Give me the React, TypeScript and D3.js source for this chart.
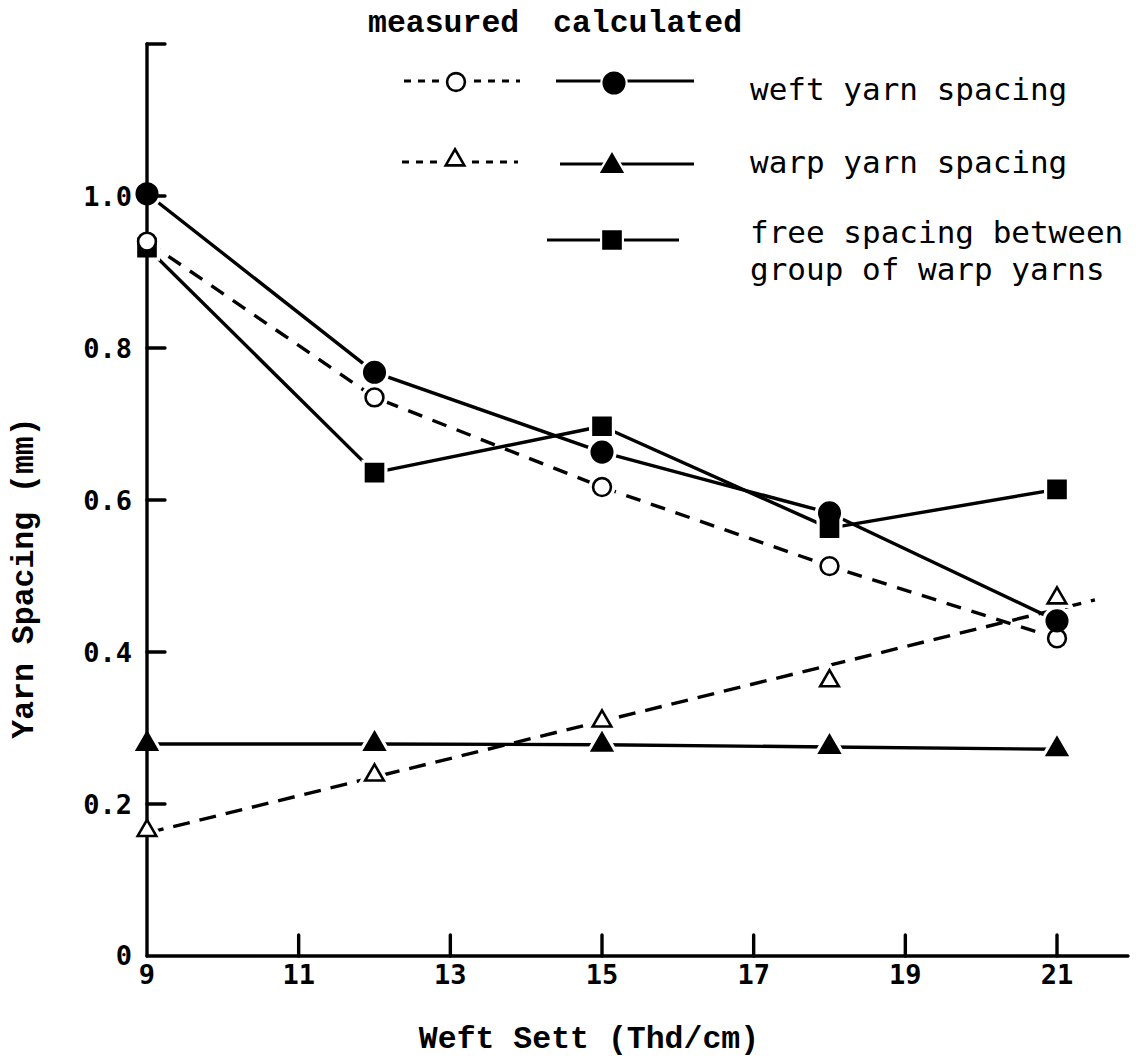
import React from "react";
import * as d3 from "d3";

const sett = [9, 12, 15, 18, 21];
const weftMeasured = [0.94, 0.735, 0.617, 0.513, 0.418];
const weftCalculated = [1.003, 0.768, 0.663, 0.583, 0.441];
const warpMeasured = [0.165, 0.238, 0.309, 0.362, 0.471];
const warpCalculated = [0.279, 0.279, 0.278, 0.275, 0.272];
const freeSpacing = [0.932, 0.636, 0.697, 0.563, 0.614];
const xTicks = [9, 11, 13, 15, 17, 19, 21];
const yTicks = [0.2, 0.4, 0.6, 0.8, 1.0, 1.2];
const yTickLabels = ["0.2", "0.4", "0.6", "0.8", "1.0", ""];
const trendEnd = 21.5;
const legendRows = ["weft yarn spacing", "warp yarn spacing", "free spacing between", "group of warp yarns"];

const W = 1136;
const H = 1060;

export default function App() {
  const x = d3.scaleLinear().domain([9, 21]).range([147, 1057]);
  const y = d3.scaleLinear().domain([0, 1.2]).range([956, 44]);
  const xEnd = 1128;

  const line = d3
    .line<[number, number]>()
    .x((d) => x(d[0]))
    .y((d) => y(d[1]));

  const pts = (vals: number[]) => sett.map((s, i) => [s, vals[i]] as [number, number]);

  // least-squares trend for measured warp spacing
  const mx = d3.mean(sett)!;
  const my = d3.mean(warpMeasured)!;
  const slope =
    d3.sum(sett.map((s, i) => (s - mx) * (warpMeasured[i] - my))) /
    d3.sum(sett.map((s) => (s - mx) * (s - mx)));
  const trend: [number, number][] = [
    [sett[0], my + slope * (sett[0] - mx)],
    [trendEnd, my + slope * (trendEnd - mx)],
  ];

  const sym = (type: d3.SymbolType, size: number) => d3.symbol().type(type).size(size)()!;
  const circleF = sym(d3.symbolCircle, 330);
  const circleO = sym(d3.symbolCircle, 250);
  const triF = sym(d3.symbolTriangle, 170);
  const triO = sym(d3.symbolTriangle, 150);
  const square = sym(d3.symbolSquare, 290);

  type M = { d: string; filled: boolean; vals: number[] };
  const markers: M[] = [
    { d: square, filled: true, vals: freeSpacing },
    { d: circleO, filled: false, vals: weftMeasured },
    { d: circleF, filled: true, vals: weftCalculated },
    { d: triO, filled: false, vals: warpMeasured },
    { d: triF, filled: true, vals: warpCalculated },
  ];

  const sw = 3.4;
  const monoBold = "'Liberation Mono', 'DejaVu Sans Mono', monospace";
  const monoSans = "'DejaVu Sans Mono', 'Liberation Mono', monospace";

  return (
    <svg
      width={W}
      height={H}
      style={{ position: "absolute", left: 0, top: 0, background: "#fff" }}
      fill="none"
    >
      <rect x={0} y={0} width={W} height={H} fill="#fff" />

      {/* series lines */}
      <g stroke="#000" strokeWidth={sw} strokeLinecap="round" strokeLinejoin="round">
        <path d={line(pts(weftCalculated))!} />
        <path d={line(pts(freeSpacing))!} />
        <path d={line(pts(warpCalculated))!} />
        <path d={line(pts(weftMeasured))!} strokeDasharray="15 11" strokeLinecap="butt" />
        <path d={line(trend)!} strokeDasharray="17 10" strokeLinecap="butt" />
      </g>

      {/* marker halos */}
      <g>
        {markers.map((m, k) =>
          m.vals.map((v, i) => (
            <path
              key={`h${k}-${i}`}
              d={m.d}
              transform={`translate(${x(sett[i])},${y(v)})`}
              fill="#fff"
              stroke="#fff"
              strokeWidth={9}
            />
          ))
        )}
      </g>

      {/* axes */}
      <g stroke="#000" strokeWidth={3.4} strokeLinecap="round">
        <line x1={x(9)} y1={y(0)} x2={xEnd} y2={y(0)} />
        <line x1={x(9)} y1={y(0)} x2={x(9)} y2={y(1.2)} />
        {yTicks.map((t) => (
          <line key={`yt${t}`} x1={x(9)} x2={x(9) + 18} y1={y(t)} y2={y(t)} />
        ))}
        {xTicks.slice(1).map((t) => (
          <line key={`xt${t}`} x1={x(t)} x2={x(t)} y1={y(0)} y2={y(0) - 21} />
        ))}
      </g>

      {/* markers */}
      <g stroke="#000" strokeWidth={2.6}>
        {markers.map((m, k) =>
          m.vals.map((v, i) => (
            <path
              key={`m${k}-${i}`}
              d={m.d}
              transform={`translate(${x(sett[i])},${y(v)})`}
              fill={m.filled ? "#000" : "#fff"}
            />
          ))
        )}
      </g>

      {/* tick labels */}
      <g fill="#000" fontFamily={monoSans} fontSize={27} fontWeight={600}>
        {xTicks.map((t) => (
          <text key={`xl${t}`} x={x(t)} y={y(0) + 28} textAnchor="middle">
            {t}
          </text>
        ))}
        <text x={x(9) - 15} y={y(0) + 9} textAnchor="end">0</text>
        {yTicks.map((t, i) => (
          <text key={`yl${t}`} x={x(9) - 15} y={y(t) + 10} textAnchor="end">
            {yTickLabels[i]}
          </text>
        ))}
      </g>

      {/* axis titles */}
      <g fill="#000" fontFamily={monoBold} fontSize={31.5} fontWeight={700}>
        <text x={589} y={1048} textAnchor="middle">Weft Sett (Thd/cm)</text>
        <text transform="translate(33,578) rotate(-90)" textAnchor="middle">Yarn Spacing (mm)</text>
        <text x={368} y={32}>measured</text>
        <text x={553} y={32}>calculated</text>
      </g>

      {/* legend */}
      <g stroke="#000" strokeWidth={3.2}>
        <line x1={404} x2={520} y1={81} y2={81} strokeDasharray="7 7" />
        <line x1={556} x2={694} y1={81} y2={81} />
        <line x1={402} x2={518} y1={162} y2={162} strokeDasharray="7 7" />
        <line x1={560} x2={694} y1={164} y2={164} />
        <line x1={547} x2={679} y1={240} y2={240} />
      </g>
      <g stroke="#fff" strokeWidth={7}>
        <path d={circleO} transform="translate(456,82)" fill="#fff" />
        <path d={circleF} transform="translate(614,83)" fill="#fff" />
        <path d={triO} transform="translate(455,160)" fill="#fff" />
        <path d={triF} transform="translate(612,166)" fill="#fff" />
        <path d={square} transform="translate(612,240)" fill="#fff" />
      </g>
      <g stroke="#000" strokeWidth={2.6}>
        <path d={circleO} transform="translate(456,82)" fill="#fff" />
        <path d={circleF} transform="translate(614,83)" fill="#000" />
        <path d={triO} transform="translate(455,160)" fill="#fff" />
        <path d={triF} transform="translate(612,166)" fill="#000" />
        <path d={square} transform="translate(612,240)" fill="#000" />
      </g>
      <g fill="#000" fontFamily={monoSans} fontSize={31}>
        <text x={750} y={100}>{legendRows[0]}</text>
        <text x={750} y={173}>{legendRows[1]}</text>
        <text x={750} y={243}>{legendRows[2]}</text>
        <text x={750} y={280}>{legendRows[3]}</text>
      </g>
    </svg>
  );
}
